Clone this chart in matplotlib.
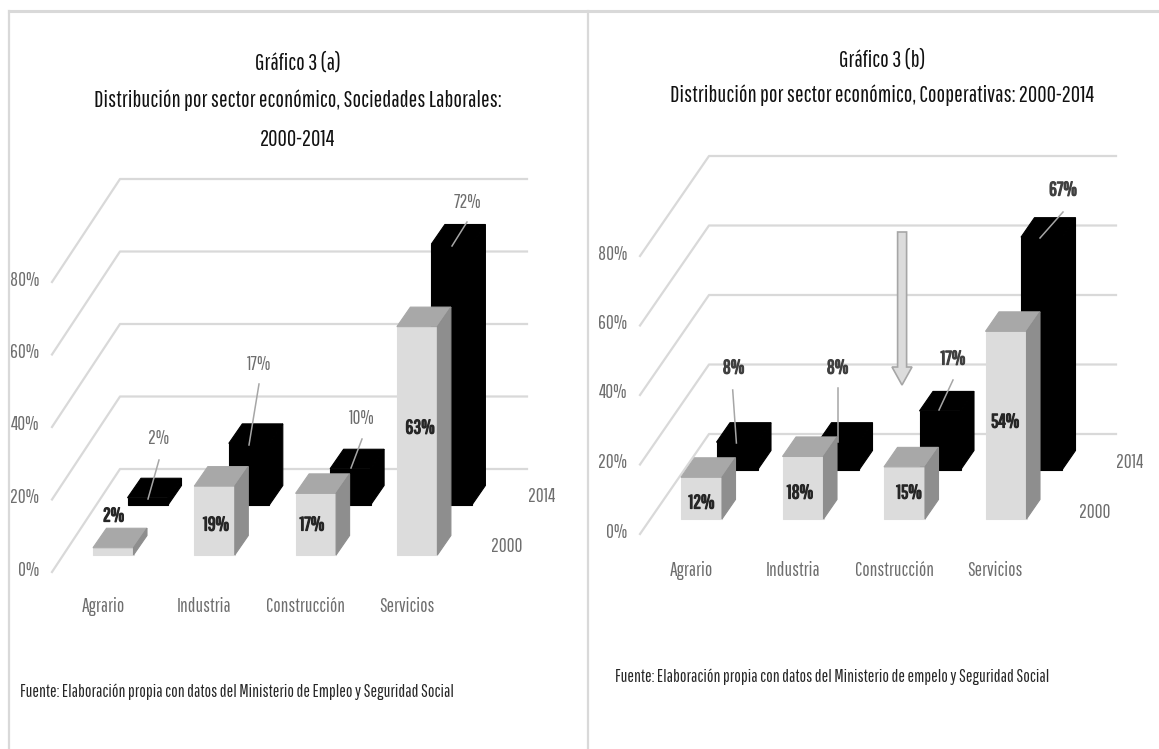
import matplotlib
matplotlib.use('Agg')
import matplotlib.pyplot as plt
import matplotlib.patheffects as pe
from matplotlib.patches import Polygon

# fuente estrecha si la hay; el tamano se ajusta abajo al ancho del titulo, asi vale cualquiera
plt.rcParams['font.family'] = ['Pathway Gothic One', 'Barlow Condensed', 'Archivo Narrow', 'Liberation Sans', 'DejaVu Sans']
matplotlib.logging.getLogger('matplotlib.font_manager').setLevel(matplotlib.logging.ERROR)

sectores = ['Agrario', 'Industria', 'Construcción', 'Servicios']
marcas_eje = [0, 20, 40, 60, 80]
anios = ['2000', '2014']

valores_a_2000 = [2, 19, 17, 63]
valores_a_2014 = [2, 17, 10, 72]
valores_b_2000 = [12, 18, 15, 54]
valores_b_2014 = [8, 8, 17, 67]

titulo_a = ['Gráfico 3 (a)', 'Distribución por sector económico, Sociedades Laborales:', '2000-2014']
titulo_b = ['Gráfico 3 (b)', 'Distribución por sector económico, Cooperativas: 2000-2014']
fuente_a = 'Fuente: Elaboración propia con datos del Ministerio de Empleo y Seguridad Social'
fuente_b = 'Fuente: Elaboración propia con datos del Ministerio de empelo y Seguridad Social'

# colores
GRIS_REJILLA = '#d9d9d9'
GRIS_TEXTO = '#6e6e6e'
FRENTE = '#dcdcdc'
TAPA = '#a8a8a8'
LADO = '#8e8e8e'

# geometria de cada panel, en pixeles de la imagen
panel_a = dict(x_eje=52, y_cero=572, px_pct=3.625, fondo=(68, -103), x_der=527,
               x_barra=93, y_barra=555, paso=101.3, ancho=40.5, prof=(13.5, -19.5),
               dx_serie=34.5, dy_serie=-50, x_marcas=39, y_cat=606, x_cats=[103, 204, 305.5, 407],
               pos_2000=[(113.5, 516), (216, 525), (312, 525), (420, 428)],
               pos_2014=[(159, 439), (259, 364), (362, 418), (467, 202)],
               guia_2014=[(159, 460, 148, 499), (259, 384, 249, 445), (362, 439, 351, 468), (467, 222, 452, 246)],
               pos_anios=[(506.5, 546), (542, 497)], negrita_2014=False)
panel_b = dict(x_eje=640, y_cero=534, px_pct=3.475, fondo=(69, -100), x_der=1116,
               x_barra=681, y_barra=519, paso=101.5, ancho=41, prof=(13.5, -19.5),
               dx_serie=35.5, dy_serie=-49, x_marcas=627, y_cat=570, x_cats=[691, 793, 894, 994.5],
               pos_2000=[(701.5, 503), (800, 493), (909, 493), (1005, 422)],
               pos_2014=[(733.5, 368), (837.5, 368), (953, 359), (1063, 190)],
               guia_2014=[(732.7, 390, 736.4, 443), (837.5, 388, 837.5, 442), (953, 380, 939, 410), (1063, 212, 1040, 238)],
               pos_anios=[(1095, 512), (1130, 462)], negrita_2014=True)


def barra(ax, x, y, v, p, frente, tapa, lado):
    ancho = p['ancho']
    dx, dy = p['prof']
    alto = v * p['px_pct']
    ax.add_patch(Polygon([(x, y), (x + ancho, y), (x + ancho, y - alto), (x, y - alto)], fc=frente, ec=frente, lw=0.8, zorder=3))
    ax.add_patch(Polygon([(x, y - alto), (x + ancho, y - alto), (x + ancho + dx, y - alto + dy), (x + dx, y - alto + dy)], fc=tapa, ec=tapa, lw=0.8, zorder=3))
    ax.add_patch(Polygon([(x + ancho, y), (x + ancho + dx, y + dy), (x + ancho + dx, y - alto + dy), (x + ancho, y - alto)], fc=lado, ec=lado, lw=0.8, zorder=3))


def negrita(ax, x, y, s, color, t):
    # la fuente estrecha no trae negrita: se engorda con un trazo del mismo color
    ax.text(x, y, s, ha='center', va='center', color=color, fontsize=t, zorder=5,
            path_effects=[pe.withStroke(linewidth=0.9, foreground=color)])


def dibujar_panel(ax, p, v2000, v2014, t_eje):
    fx, fy = p['fondo']
    for m in marcas_eje:
        y = p['y_cero'] - m * p['px_pct']
        ax.plot([p['x_eje'], p['x_eje'] + fx, p['x_der']], [y, y + fy, y + fy], color=GRIS_REJILLA, lw=1.6, zorder=1)
        ax.text(p['x_marcas'], y - 2, f'{m}%', ha='right', va='center', color=GRIS_TEXTO, fontsize=t_eje)

    for i in range(len(sectores)):
        x = p['x_barra'] + i * p['paso'] + p['dx_serie']
        barra(ax, x, p['y_barra'] + p['dy_serie'], v2014[i], p, 'black', 'black', 'black')
    for i in range(len(sectores)):
        x = p['x_barra'] + i * p['paso']
        barra(ax, x, p['y_barra'], v2000[i], p, FRENTE, TAPA, LADO)

    for i, nombre in enumerate(sectores):
        ax.text(p['x_cats'][i], p['y_cat'], nombre, ha='center', va='center', color=GRIS_TEXTO, fontsize=t_eje)
        x0, y0 = p['pos_2000'][i]
        negrita(ax, x0, y0, f'{v2000[i]}%', '#262626', t_eje)
        x1, y1 = p['pos_2014'][i]
        if p['negrita_2014']:
            negrita(ax, x1, y1, f'{v2014[i]}%', '#404040', t_eje)
        else:
            ax.text(x1, y1, f'{v2014[i]}%', ha='center', va='center', color=GRIS_TEXTO, fontsize=t_eje, zorder=5)
        g = p['guia_2014'][i]
        ax.plot([g[0], g[2]], [g[1], g[3]], color='#a6a6a6', lw=1.1, zorder=4)

    for etiqueta, (x, y) in zip(anios, p['pos_anios']):
        ax.text(x, y, etiqueta, ha='center', va='center', color=GRIS_TEXTO, fontsize=t_eje)


fig = plt.figure(figsize=(11.59, 7.49), dpi=100)
ax = fig.add_axes([0, 0, 1, 1])
ax.set_xlim(0, 1159)
ax.set_ylim(749, 0)
ax.axis('off')

# tamano de letra: la segunda linea del titulo mide unos 405 px en el original
prueba = ax.text(0, 0, titulo_a[1], fontsize=20)
ancho_prueba = prueba.get_window_extent(fig.canvas.get_renderer()).width
prueba.remove()
t_titulo = 20 * 405 / ancho_prueba
t_eje = t_titulo * 0.85
t_fuente = t_titulo * 0.76

# marco de los dos paneles
ax.plot([8.5, 8.5], [749, 10.5], color=GRIS_REJILLA, lw=1.6)
ax.plot([8.5, 1159], [10.5, 10.5], color=GRIS_REJILLA, lw=2.2)
ax.plot([588, 588], [10.5, 749], color=GRIS_REJILLA, lw=1.6)

for linea, y in zip(titulo_a, [63, 100, 140]):
    ax.text(298, y, linea, ha='center', va='center', color='#111111', fontsize=t_titulo)
for linea, y in zip(titulo_b, [60, 95]):
    ax.text(882, y, linea, ha='center', va='center', color='#111111', fontsize=t_titulo)

dibujar_panel(ax, panel_a, valores_a_2000, valores_a_2014, t_eje)
dibujar_panel(ax, panel_b, valores_b_2000, valores_b_2014, t_eje)

# flecha hacia Construccion, 2000
ax.add_patch(Polygon([(897.6, 232), (906.6, 232), (906.6, 367), (912, 367), (902, 385), (892, 367), (897.6, 367)],
                     fc='#dcdcdc', ec='#a6a6a6', lw=1.2, zorder=6))

ax.text(20, 692, fuente_a, ha='left', va='center', color='#262626', fontsize=t_fuente)
ax.text(615, 677, fuente_b, ha='left', va='center', color='#262626', fontsize=t_fuente)

fig.savefig('out.png', dpi=100)
